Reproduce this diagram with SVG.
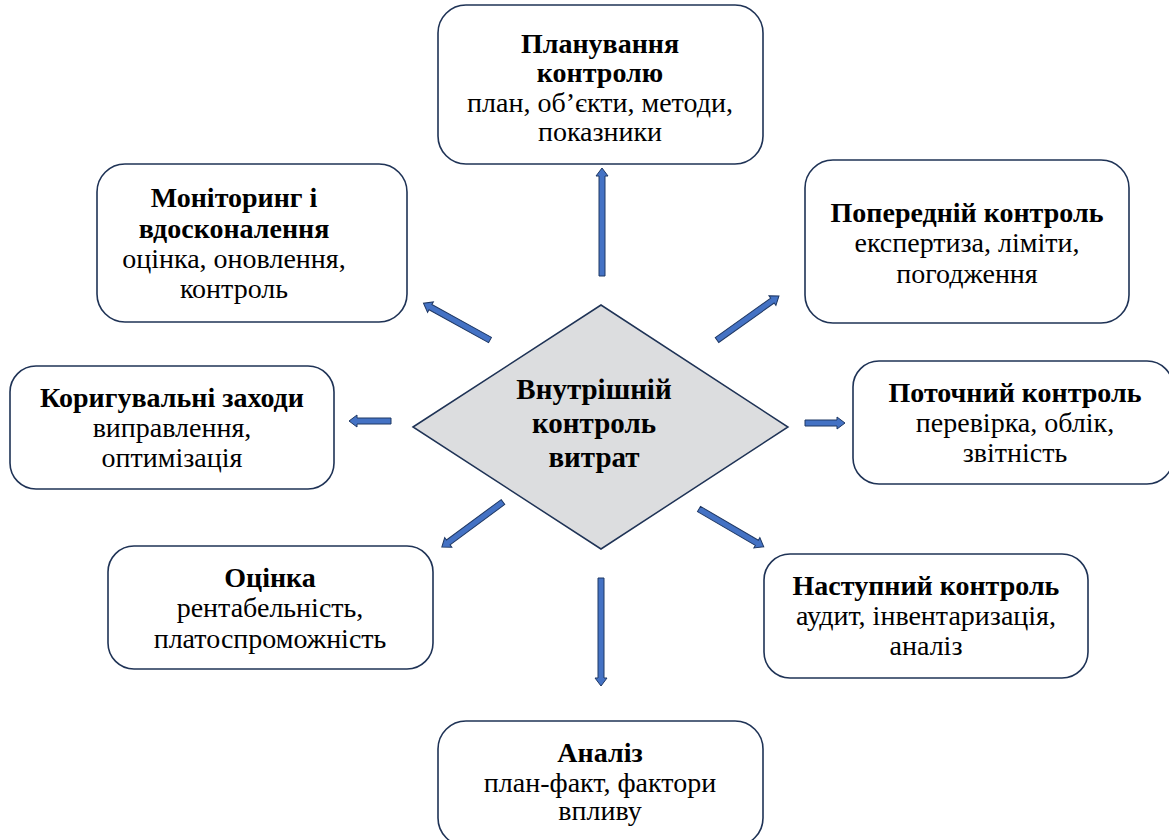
<svg xmlns="http://www.w3.org/2000/svg" width="1169" height="840" viewBox="0 0 1169 840">
<rect width="1169" height="840" fill="#fff"/>
<g id="connectors" fill="#4472C4" stroke="#1F3864" stroke-width="1">
<polygon transform="translate(602,276) rotate(-90)" points="0,-3 100,-3 100,-6 108,0 100,6 100,3 0,3"/>
<polygon transform="translate(717,340) rotate(-35.4)" points="0,-3 68,-3 68,-6 76,0 68,6 68,3 0,3"/>
<polygon transform="translate(490,340) rotate(-151.1)" points="0,-3 68,-3 68,-6 76,0 68,6 68,3 0,3"/>
<polygon transform="translate(391,421) rotate(180)" points="0,-3 34,-3 34,-6 42,0 34,6 34,3 0,3"/>
<polygon transform="translate(805,423)" points="0,-3 32,-3 32,-6 40,0 32,6 32,3 0,3"/>
<polygon transform="translate(503,502) rotate(143.6)" points="0,-3 68,-3 68,-6 76,0 68,6 68,3 0,3"/>
<polygon transform="translate(699,509) rotate(30.3)" points="0,-3 67,-3 67,-6 75,0 67,6 67,3 0,3"/>
<polygon transform="translate(601,578) rotate(90)" points="0,-3 100,-3 100,-6 108,0 100,6 100,3 0,3"/>
</g>
<g id="center">
<polygon fill="#DCDDDF" stroke="#1F3356" stroke-width="1.5" points="413,427 601,305 788,427 601,549"/>
<text font-family="Liberation Serif" text-anchor="middle" font-size="29" font-weight="bold" x="594" y="399">Внутрішній</text>
<text font-family="Liberation Serif" text-anchor="middle" font-size="29" font-weight="bold" x="594" y="433">контроль</text>
<text font-family="Liberation Serif" text-anchor="middle" font-size="29" font-weight="bold" x="594" y="467">витрат</text>
</g>
<g id="planning">
<rect fill="#fff" stroke="#1F3356" stroke-width="1.6" x="438" y="5" width="325" height="159" rx="28"/>
<text font-family="Liberation Serif" text-anchor="middle" font-size="28" font-weight="bold" x="600" y="53">Планування</text>
<text font-family="Liberation Serif" text-anchor="middle" font-size="28" font-weight="bold" x="600" y="82">контролю</text>
<text font-family="Liberation Serif" text-anchor="middle" font-size="28" x="600" y="112">план, об’єкти, методи,</text>
<text font-family="Liberation Serif" text-anchor="middle" font-size="28" x="600" y="141">показники</text>
</g>
<g id="monitoring">
<rect fill="#fff" stroke="#1F3356" stroke-width="1.6" x="97" y="164" width="310" height="158" rx="28"/>
<text font-family="Liberation Serif" text-anchor="middle" font-size="28" font-weight="bold" x="234" y="207">Моніторинг і</text>
<text font-family="Liberation Serif" text-anchor="middle" font-size="28" font-weight="bold" x="234" y="238">вдосконалення</text>
<text font-family="Liberation Serif" text-anchor="middle" font-size="28" x="234" y="268">оцінка, оновлення,</text>
<text font-family="Liberation Serif" text-anchor="middle" font-size="28" x="234" y="298">контроль</text>
</g>
<g id="corrective">
<rect fill="#fff" stroke="#1F3356" stroke-width="1.6" x="10" y="366" width="324" height="123" rx="26"/>
<text font-family="Liberation Serif" text-anchor="middle" font-size="28" font-weight="bold" x="172" y="407">Коригувальні заходи</text>
<text font-family="Liberation Serif" text-anchor="middle" font-size="28" x="172" y="437">виправлення,</text>
<text font-family="Liberation Serif" text-anchor="middle" font-size="28" x="172" y="467">оптимізація</text>
</g>
<g id="preliminary">
<rect fill="#fff" stroke="#1F3356" stroke-width="1.6" x="805" y="160" width="324" height="163" rx="28"/>
<text font-family="Liberation Serif" text-anchor="middle" font-size="28" font-weight="bold" x="967" y="222">Попередній контроль</text>
<text font-family="Liberation Serif" text-anchor="middle" font-size="28" x="967" y="252">експертиза, ліміти,</text>
<text font-family="Liberation Serif" text-anchor="middle" font-size="28" x="967" y="283">погодження</text>
</g>
<g id="current">
<rect fill="#fff" stroke="#1F3356" stroke-width="1.6" x="853" y="361" width="320" height="123" rx="26"/>
<text font-family="Liberation Serif" text-anchor="middle" font-size="28" font-weight="bold" x="1015" y="402">Поточний контроль</text>
<text font-family="Liberation Serif" text-anchor="middle" font-size="28" x="1015" y="432">перевірка, облік,</text>
<text font-family="Liberation Serif" text-anchor="middle" font-size="28" x="1015" y="462">звітність</text>
</g>
<g id="evaluation">
<rect fill="#fff" stroke="#1F3356" stroke-width="1.6" x="108" y="546" width="325" height="123" rx="26"/>
<text font-family="Liberation Serif" text-anchor="middle" font-size="28" font-weight="bold" x="270" y="587">Оцінка</text>
<text font-family="Liberation Serif" text-anchor="middle" font-size="28" x="270" y="617">рентабельність,</text>
<text font-family="Liberation Serif" text-anchor="middle" font-size="28" x="270" y="648">платоспроможність</text>
</g>
<g id="subsequent">
<rect fill="#fff" stroke="#1F3356" stroke-width="1.6" x="764" y="554" width="324" height="124" rx="26"/>
<text font-family="Liberation Serif" text-anchor="middle" font-size="28" font-weight="bold" x="926" y="595">Наступний контроль</text>
<text font-family="Liberation Serif" text-anchor="middle" font-size="28" x="926" y="625">аудит, інвентаризація,</text>
<text font-family="Liberation Serif" text-anchor="middle" font-size="28" x="926" y="655">аналіз</text>
</g>
<g id="analysis">
<rect fill="#fff" stroke="#1F3356" stroke-width="1.6" x="438" y="721" width="325" height="125" rx="28"/>
<text font-family="Liberation Serif" text-anchor="middle" font-size="28" font-weight="bold" x="600" y="762">Аналіз</text>
<text font-family="Liberation Serif" text-anchor="middle" font-size="28" x="600" y="792">план-факт, фактори</text>
<text font-family="Liberation Serif" text-anchor="middle" font-size="28" x="600" y="820">впливу</text>
</g>
</svg>
